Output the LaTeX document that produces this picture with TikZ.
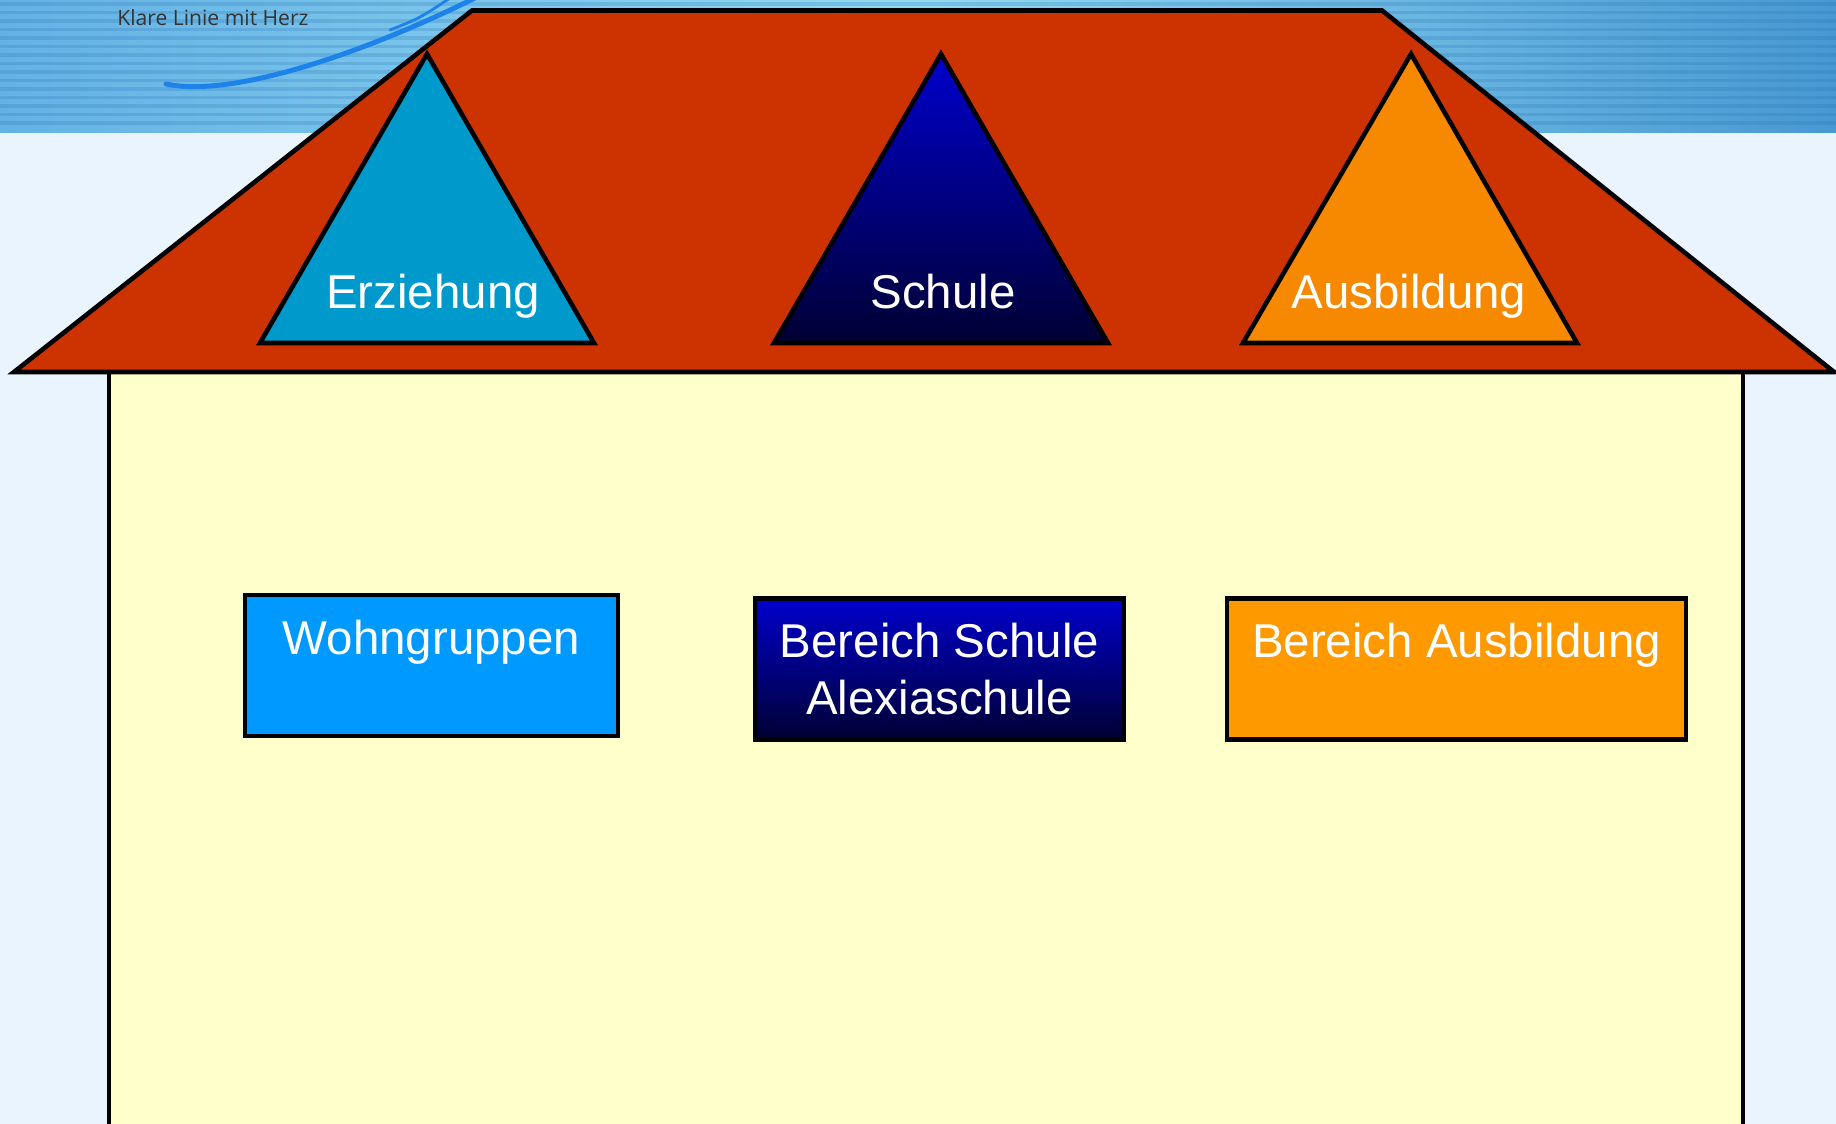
\documentclass[tikz,border=0pt]{standalone}
\usepackage{fontspec}
\setmainfont{Liberation Sans}
\newfontfamily\bannerfont{Open Sans}
\definecolor{pagebg}{RGB}{234,244,255}
\definecolor{bannerleft}{RGB}{100,178,228}
\definecolor{bannerlight}{RGB}{145,218,243}
\definecolor{bannerright}{RGB}{72,152,210}
\definecolor{stripeblue}{RGB}{40,110,180}
\definecolor{swooshblue}{RGB}{30,130,235}
\definecolor{roofred}{RGB}{204,51,0}
\definecolor{wallyellow}{RGB}{255,255,204}
\definecolor{erzblue}{RGB}{0,153,204}
\definecolor{schulblue}{RGB}{0,0,204}
\definecolor{schulnavy}{RGB}{0,0,51}
\definecolor{ausorange}{RGB}{247,137,0}
\definecolor{wohnblue}{RGB}{0,153,255}
\definecolor{boxorange}{RGB}{255,153,0}

\begin{document}
\begin{tikzpicture}[
	outline/.style={
		draw=black,
		line width=1.3pt,
		line join=miter
	},
	trilabel/.style={
		text=white,
		anchor=base,
		inner sep=0pt,
		font=\fontsize{13.5}{16.3}\selectfont
	},
	box/.style={
		rectangle,
		outline,
		align=center,
		text=white,
		inner sep=0pt,
		minimum height=1.41cm,
		font=\fontsize{13.5}{16.3}\selectfont
	},
]

\useasboundingbox (0,0) rectangle (18.36,-11.24);
\clip (0,0) rectangle (18.36,-11.24);

% page and banner
\fill[pagebg] (0,0) rectangle (18.36,-11.24);
\fill[left color=bannerleft, right color=bannerright, middle color=bannerlight]
	(0,0) rectangle (18.36,-1.33);
\foreach \y in {0.04,0.125,...,1.30}
	\draw[stripeblue, opacity=0.22, line width=0.9pt] (0,-\y) -- (18.36,-\y);
\draw[swooshblue, line width=1.4pt, line cap=round]
	(1.66,-0.84) .. controls (2.3,-0.98) and (3.6,-0.55) .. (4.75,0.02);
\draw[swooshblue, line width=0.8pt, line cap=round]
	(3.9,-0.30) .. controls (4.2,-0.18) .. (4.5,0.02);
\node[font=\bannerfont\fontsize{6}{7}\selectfont, text=black!80, inner sep=0pt]
	(motto) at (2.13,-0.18) {Klare Linie mit Herz};

% house
\draw[outline, fill=wallyellow] (1.09,-3.72) rectangle (17.43,-11.6);
\draw[outline, fill=roofred]
	(0.14,-3.72) -- (4.72,-0.105) -- (13.82,-0.105) -- (18.34,-3.72) -- cycle;

% triangles on the roof
\draw[outline, fill=erzblue] (2.60,-3.43) -- (4.27,-0.54) -- (5.94,-3.43) -- cycle;
\draw[outline, top color=schulblue, bottom color=schulnavy]
	(7.74,-3.43) -- (9.41,-0.54) -- (11.08,-3.43) -- cycle;
\draw[outline, fill=ausorange] (12.43,-3.43) -- (14.11,-0.54) -- (15.77,-3.43) -- cycle;

\node[trilabel] (erz) at (4.33,-3.09) {Erziehung};
\node[trilabel] (schule) at (9.43,-3.09) {Schule};
\node[trilabel] (ausb) at (14.09,-3.09) {Ausbildung};

% boxes in the house
\node[box, fill=wohnblue, minimum width=3.73cm] (box_wohn) at (4.315,-6.655)
	{Wohngruppen\\ \mbox{}};
\node[box, top color=schulblue, bottom color=schulnavy, minimum width=3.69cm]
	(box_schule) at (9.395,-6.69) {Bereich Schule\\Alexiaschule};
\node[box, fill=boxorange, minimum width=4.59cm] (box_ausb) at (14.565,-6.69)
	{Bereich Ausbildung\\ \mbox{}};

\end{tikzpicture}
\end{document}
